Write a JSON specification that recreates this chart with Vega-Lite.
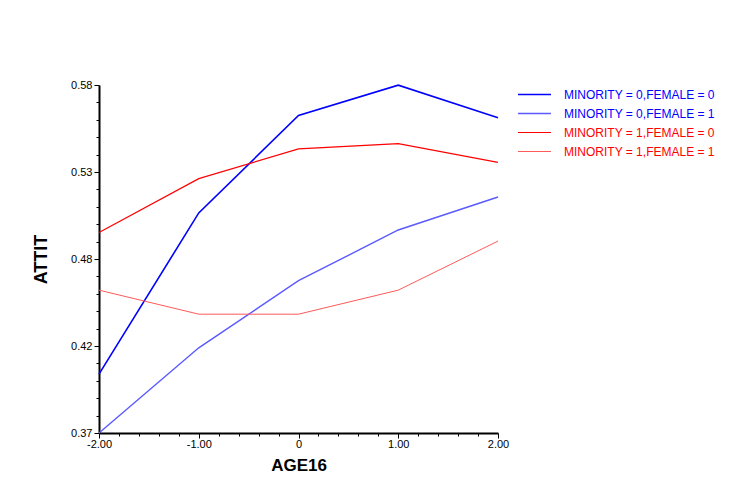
{
  "$schema": "https://vega.github.io/schema/vega-lite/v6.json",
  "autosize": "none",
  "padding": {"left": 99, "top": 85, "right": 233, "bottom": 67},
  "width": 399,
  "height": 348,
  "background": "white",
  "config": {
    "font": "Liberation Sans",
    "view": {"stroke": null},
    "axis": {"grid": false, "domainColor": "black", "tickColor": "black", "labelColor": "black", "titleColor": "black"}
  },
  "data": {
    "values": [
      {"AGE16": -2, "ATTIT": 0.4055, "group": "MINORITY = 0,FEMALE = 0"},
      {"AGE16": -1, "ATTIT": 0.5028, "group": "MINORITY = 0,FEMALE = 0"},
      {"AGE16": 0, "ATTIT": 0.5616, "group": "MINORITY = 0,FEMALE = 0"},
      {"AGE16": 1, "ATTIT": 0.5799, "group": "MINORITY = 0,FEMALE = 0"},
      {"AGE16": 2, "ATTIT": 0.5602, "group": "MINORITY = 0,FEMALE = 0"},
      {"AGE16": -2, "ATTIT": 0.37, "group": "MINORITY = 0,FEMALE = 1"},
      {"AGE16": -1, "ATTIT": 0.4214, "group": "MINORITY = 0,FEMALE = 1"},
      {"AGE16": 0, "ATTIT": 0.4619, "group": "MINORITY = 0,FEMALE = 1"},
      {"AGE16": 1, "ATTIT": 0.4925, "group": "MINORITY = 0,FEMALE = 1"},
      {"AGE16": 2, "ATTIT": 0.5124, "group": "MINORITY = 0,FEMALE = 1"},
      {"AGE16": -2, "ATTIT": 0.491, "group": "MINORITY = 1,FEMALE = 0"},
      {"AGE16": -1, "ATTIT": 0.5235, "group": "MINORITY = 1,FEMALE = 0"},
      {"AGE16": 0, "ATTIT": 0.5414, "group": "MINORITY = 1,FEMALE = 0"},
      {"AGE16": 1, "ATTIT": 0.5446, "group": "MINORITY = 1,FEMALE = 0"},
      {"AGE16": 2, "ATTIT": 0.5333, "group": "MINORITY = 1,FEMALE = 0"},
      {"AGE16": -2, "ATTIT": 0.4562, "group": "MINORITY = 1,FEMALE = 1"},
      {"AGE16": -1, "ATTIT": 0.4417, "group": "MINORITY = 1,FEMALE = 1"},
      {"AGE16": 0, "ATTIT": 0.4417, "group": "MINORITY = 1,FEMALE = 1"},
      {"AGE16": 1, "ATTIT": 0.4562, "group": "MINORITY = 1,FEMALE = 1"},
      {"AGE16": 2, "ATTIT": 0.4858, "group": "MINORITY = 1,FEMALE = 1"}
    ]
  },
  "mark": {"type": "line", "clip": false},
  "encoding": {
    "x": {
      "field": "AGE16", "type": "quantitative",
      "scale": {"domain": [-2, 2], "nice": false, "zero": false},
      "axis": {
        "title": "AGE16",
        "titleFontSize": 17, "titleFontWeight": "bold", "titlePadding": 8,
        "values": [-2, -1.8, -1.6, -1.4, -1.2, -1, -0.8, -0.6, -0.4, -0.2, 0, 0.2, 0.4, 0.6, 0.8, 1, 1.2, 1.4, 1.6, 1.8, 2],
        "labelExpr": "abs(datum.value - round(datum.value)) < 0.01 ? (abs(datum.value) < 0.01 ? '0' : replace(format(datum.value, '.2f'), '\u2212', '-')) : ''",
        "labelFontSize": 11, "labelPadding": 0, "labelOverlap": false, "labelFlush": false, "labelBound": false,
        "tickSize": {"condition": {"test": "abs(datum.value - round(datum.value)) < 0.01", "value": 5}, "value": 3},
        "tickWidth": 1, "domainWidth": 2
      }
    },
    "y": {
      "field": "ATTIT", "type": "quantitative",
      "scale": {"domain": [0.37, 0.58], "nice": false, "zero": false},
      "axis": {
        "title": "ATTIT",
        "titleFontSize": 18, "titleFontWeight": "bold", "titlePadding": 20,
        "values": [0.37, 0.3805, 0.391, 0.4015, 0.412, 0.4225, 0.433, 0.4435, 0.454, 0.4645, 0.475, 0.4855, 0.496, 0.5065, 0.517, 0.5275, 0.538, 0.5485, 0.559, 0.5695, 0.58],
        "labelExpr": "abs((datum.value - 0.37) / 0.0525 - round((datum.value - 0.37) / 0.0525)) < 0.02 ? format(datum.value + 0.0001, '.2f') : ''",
        "labelFontSize": 11, "labelPadding": 2, "labelOverlap": false, "labelFlush": false, "labelBound": false,
        "tickSize": {"condition": {"test": "abs((datum.value - 0.37) / 0.0525 - round((datum.value - 0.37) / 0.0525)) < 0.02", "value": 5}, "value": 3},
        "tickWidth": 1, "domainWidth": 2
      }
    },
    "color": {
      "field": "group", "type": "nominal",
      "scale": {
        "domain": ["MINORITY = 0,FEMALE = 0", "MINORITY = 0,FEMALE = 1", "MINORITY = 1,FEMALE = 0", "MINORITY = 1,FEMALE = 1"],
        "range": ["#0000ff", "#5a5aff", "#ff0000", "#ff5a5a"]
      },
      "legend": {
        "title": null, "orient": "right", "offset": 15, "padding": 0,
        "symbolType": "stroke", "symbolSize": 1089, "clipHeight": 19, "rowPadding": 0,
        "labelFontSize": 12, "labelOffset": 12, "labelLimit": 300,
        "encode": {
          "labels": {"update": {"fill": {"signal": "indexof(datum.label, 'MINORITY = 0') >= 0 ? '#0000ff' : '#ff0000'"}}},
          "symbols": {"update": {"strokeWidth": {"signal": "indexof(datum.label, 'FEMALE = 0') >= 0 ? 1.6 : 1"}}}
        }
      }
    },
    "strokeWidth": {
      "field": "group", "type": "nominal",
      "scale": {
        "domain": ["MINORITY = 0,FEMALE = 0", "MINORITY = 0,FEMALE = 1", "MINORITY = 1,FEMALE = 0", "MINORITY = 1,FEMALE = 1"],
        "range": [1.6, 1, 1.6, 1]
      },
      "legend": null
    }
  }
}
